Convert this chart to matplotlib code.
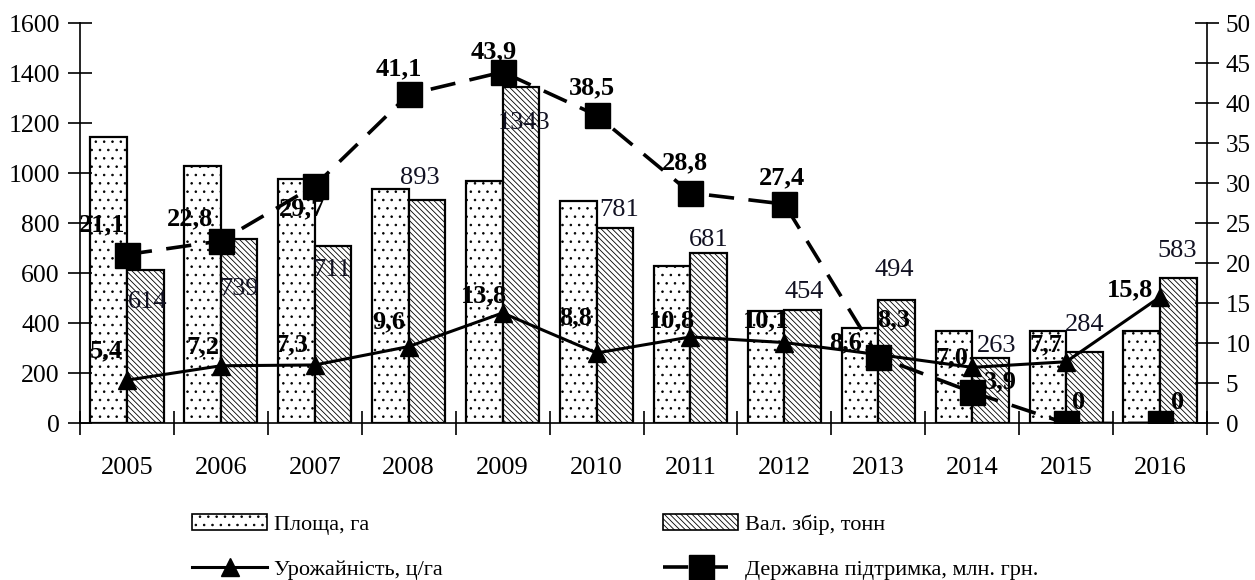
import matplotlib
matplotlib.use('Agg')
import matplotlib.pyplot as plt
from matplotlib.patches import Patch
from matplotlib.lines import Line2D
import numpy as np

plt.rcParams['font.family'] = ['Liberation Serif', 'DejaVu Serif']
plt.rcParams['hatch.linewidth'] = 0.6

years = ['2005', '2006', '2007', '2008', '2009', '2010',
         '2011', '2012', '2013', '2014', '2015', '2016']
area = [1145, 1030, 977, 937, 969, 889, 630, 449, 380, 370, 370, 370]
harvest = [614, 739, 711, 893, 1343, 781, 681, 454, 494, 263, 284, 583]
yield_ = [5.4, 7.2, 7.3, 9.6, 13.8, 8.8, 10.8, 10.1, 8.6, 7.0, 7.7, 15.8]
support = [21.1, 22.8, 29.7, 41.1, 43.9, 38.5, 28.8, 27.4, 8.3, 3.9, 0, 0]

# label offsets in pixels (dx, dy)
harvest_off = [(2, -32), (0, -50), (-1, -24), (-7, 22), (3, -36), (4, 18),
               (0, 13), (1, 18), (-2, 30), (6, 12), (0, 27), (-1, 27)]
yield_off = [(-21, 29), (-18, 19), (-23, 20), (-20, 25), (-19, 17), (-21, 35),
             (-19, 16), (-18, 22), (-33, 12), (-20, 10), (-20, 17), (-30, 7)]
support_off = [(-25, 30), (-31, 22), (-13, -23), (-10, 26), (-9, 20), (-5, 27),
               (-6, 30), (-2, 26), (15, 37), (28, 10), (12, 21), (17, 21)]

def fmt(v):
    if v == 0:
        return '0'
    return ('%.1f' % v).replace('.', ',')

fs = 19
x = np.arange(len(years))
w = 0.39
dots = '..'
lines = '\\\\\\\\\\\\'

fig = plt.figure(figsize=(12.55, 5.8), dpi=100)
ax = fig.add_axes([0.0637, 0.270, 0.8981, 0.690])
ax2 = ax.twinx()

ax.bar(x - w / 2, area, w, color='white', edgecolor='black', hatch=dots, linewidth=1.6)
ax.bar(x + w / 2, harvest, w, color='white', edgecolor='black', hatch=lines, linewidth=1.6)

ax2.plot(x, support, color='black', lw=2.6, dashes=(7, 4),
         marker='s', markersize=18, zorder=3)
ax2.plot(x, yield_, color='black', lw=2.2, marker='^', markersize=13, zorder=4)

for i in range(len(years)):
    ax.annotate(str(harvest[i]), (x[i] + w / 2, harvest[i]), xytext=harvest_off[i],
                textcoords='offset pixels', ha='center', va='center', fontsize=fs,
                color='#111122', zorder=5)
    ax2.annotate(fmt(yield_[i]), (x[i], yield_[i]), xytext=yield_off[i],
                 textcoords='offset pixels', ha='center', va='center', fontsize=fs,
                 fontweight='bold', color='black', zorder=6)
    ax2.annotate(fmt(support[i]), (x[i], support[i]), xytext=support_off[i],
                 textcoords='offset pixels', ha='center', va='center', fontsize=fs,
                 fontweight='bold', color='black', zorder=6)

ax.set_xlim(-0.5, len(years) - 0.5)
ax.set_ylim(0, 1600)
ax2.set_ylim(0, 50)
ax.set_yticks(np.arange(0, 1601, 200))
ax2.set_yticks(np.arange(0, 51, 5))

ax.set_xticks(np.arange(-0.5, len(years), 1.0))
ax.set_xticklabels([])
ax.set_xticks(x, minor=True)
ax.set_xticklabels(years, minor=True)
ax.tick_params(axis='x', which='major', direction='inout', length=17, width=1.2)
ax.tick_params(axis='x', which='minor', length=0, pad=24, labelsize=fs)
ax.tick_params(axis='y', direction='inout', length=17, width=1.2, pad=6, labelsize=18.5)
ax2.tick_params(axis='y', direction='inout', length=17, width=1.2, pad=5, labelsize=18)

for a in (ax, ax2):
    a.spines['top'].set_visible(False)
    for s in ('left', 'right', 'bottom'):
        a.spines[s].set_linewidth(1.2)
ax.spines['right'].set_visible(False)
ax2.spines['left'].set_visible(False)
ax2.spines['bottom'].set_visible(False)

handles = [
    Patch(facecolor='white', edgecolor='black', hatch=dots, linewidth=1.2),
    Line2D([], [], color='black', lw=2.2, marker='^', markersize=13),
    Patch(facecolor='white', edgecolor='black', hatch=lines, linewidth=1.2),
    Line2D([], [], color='black', lw=2.6, dashes=(7, 4), marker='s', markersize=18),
]
labels = ['Площа, га', 'Урожайність, ц/га', 'Вал. збір, тонн',
          'Державна підтримка, млн. грн.']
fig.legend(handles, labels, ncol=2, frameon=False, fontsize=16,
           loc='upper left', bbox_to_anchor=(0.137, 0.148),
           handlelength=3.4, handleheight=0.7, handletextpad=0.3,
           columnspacing=9.9, labelspacing=1.1)

fig.savefig('out.png', dpi=100)
